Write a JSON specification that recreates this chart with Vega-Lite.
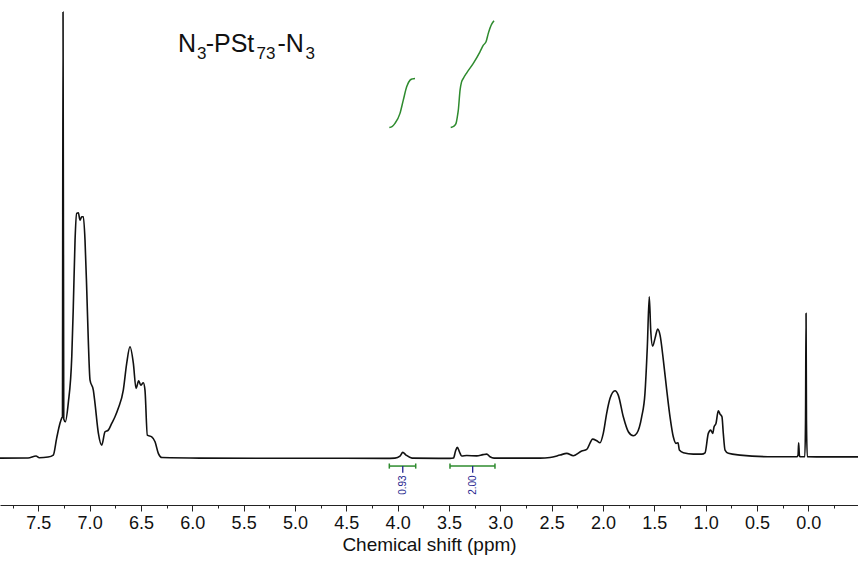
{
  "$schema": "https://vega.github.io/schema/vega-lite/v6.json",
  "width": 858,
  "height": 505,
  "autosize": {"type": "none"},
  "padding": {"left": 0, "top": 0, "right": 0, "bottom": 57},
  "background": "white",
  "config": {"view": {"stroke": null}, "font": "Liberation Sans"},
  "datasets": {
    "spectrum": [
      {"ppm": 7.873, "v": 0.13}, {"ppm": 7.6, "v": 0.15}, {"ppm": 7.522, "v": 0.57}, {"ppm": 7.49, "v": 0.2},
      {"ppm": 7.405, "v": 0.35}, {"ppm": 7.354, "v": 0.79}, {"ppm": 7.321, "v": 4.49}, {"ppm": 7.288, "v": 7.77},
      {"ppm": 7.272, "v": 8.85}, {"ppm": 7.265, "v": 9.07}, {"ppm": 7.259, "v": 97.36}, {"ppm": 7.252, "v": 8.63},
      {"ppm": 7.237, "v": 8.04}, {"ppm": 7.208, "v": 12.12}, {"ppm": 7.174, "v": 22.21}, {"ppm": 7.159, "v": 33.11},
      {"ppm": 7.142, "v": 47.65}, {"ppm": 7.126, "v": 53.48}, {"ppm": 7.110, "v": 53.61}, {"ppm": 7.094, "v": 52.01},
      {"ppm": 7.077, "v": 52.73}, {"ppm": 7.061, "v": 52.73}, {"ppm": 7.045, "v": 47.65}, {"ppm": 7.028, "v": 36.75},
      {"ppm": 7.013, "v": 25.85}, {"ppm": 6.996, "v": 17.13}, {"ppm": 6.964, "v": 14.95}, {"ppm": 6.948, "v": 12.12},
      {"ppm": 6.915, "v": 5.58}, {"ppm": 6.882, "v": 2.96}, {"ppm": 6.850, "v": 5.86}, {"ppm": 6.818, "v": 6.23},
      {"ppm": 6.785, "v": 7.70}, {"ppm": 6.753, "v": 9.13}, {"ppm": 6.721, "v": 10.97}, {"ppm": 6.672, "v": 14.95},
      {"ppm": 6.639, "v": 20.78}, {"ppm": 6.607, "v": 24.39}, {"ppm": 6.574, "v": 20.78}, {"ppm": 6.548, "v": 15.33},
      {"ppm": 6.522, "v": 16.98}, {"ppm": 6.502, "v": 16.04}, {"ppm": 6.477, "v": 16.55}, {"ppm": 6.461, "v": 14.95},
      {"ppm": 6.438, "v": 5.14}, {"ppm": 6.395, "v": 4.77}, {"ppm": 6.363, "v": 3.68}, {"ppm": 6.331, "v": 1.16},
      {"ppm": 6.295, "v": 0.24}, {"ppm": 5.925, "v": 0.13}, {"ppm": 4.951, "v": 0.09}, {"ppm": 4.123, "v": 0.07},
      {"ppm": 4.026, "v": 0.13}, {"ppm": 3.977, "v": 0.57}, {"ppm": 3.950, "v": 1.37}, {"ppm": 3.918, "v": 0.78},
      {"ppm": 3.860, "v": 0.13}, {"ppm": 3.490, "v": 0.07}, {"ppm": 3.456, "v": 0.13}, {"ppm": 3.436, "v": 1.66},
      {"ppm": 3.419, "v": 2.46}, {"ppm": 3.397, "v": 1.44}, {"ppm": 3.376, "v": 0.57}, {"ppm": 3.327, "v": 0.68},
      {"ppm": 3.230, "v": 0.61}, {"ppm": 3.168, "v": 0.89}, {"ppm": 3.132, "v": 1.00}, {"ppm": 3.100, "v": 0.41},
      {"ppm": 3.061, "v": 0.13}, {"ppm": 2.613, "v": 0.13}, {"ppm": 2.516, "v": 0.24}, {"ppm": 2.418, "v": 0.78},
      {"ppm": 2.353, "v": 1.16}, {"ppm": 2.289, "v": 0.63}, {"ppm": 2.207, "v": 1.66}, {"ppm": 2.158, "v": 2.03},
      {"ppm": 2.100, "v": 4.27}, {"ppm": 2.061, "v": 3.90}, {"ppm": 2.029, "v": 3.47}, {"ppm": 1.997, "v": 5.52},
      {"ppm": 1.964, "v": 9.88}, {"ppm": 1.931, "v": 13.15}, {"ppm": 1.883, "v": 14.80}, {"ppm": 1.851, "v": 13.86},
      {"ppm": 1.802, "v": 9.13}, {"ppm": 1.753, "v": 5.86}, {"ppm": 1.704, "v": 4.99}, {"ppm": 1.671, "v": 5.52},
      {"ppm": 1.623, "v": 9.13}, {"ppm": 1.591, "v": 14.24}, {"ppm": 1.568, "v": 24.39}, {"ppm": 1.549, "v": 35.29},
      {"ppm": 1.535, "v": 28.03}, {"ppm": 1.516, "v": 24.55}, {"ppm": 1.493, "v": 26.23}, {"ppm": 1.467, "v": 28.25},
      {"ppm": 1.444, "v": 26.94}, {"ppm": 1.412, "v": 21.49}, {"ppm": 1.379, "v": 14.95}, {"ppm": 1.347, "v": 9.13},
      {"ppm": 1.315, "v": 4.77}, {"ppm": 1.289, "v": 3.34}, {"ppm": 1.269, "v": 3.47}, {"ppm": 1.256, "v": 1.87},
      {"ppm": 1.217, "v": 1.29}, {"ppm": 1.120, "v": 1.00}, {"ppm": 1.038, "v": 1.00}, {"ppm": 1.006, "v": 1.29},
      {"ppm": 0.974, "v": 5.52}, {"ppm": 0.951, "v": 6.23}, {"ppm": 0.931, "v": 5.52}, {"ppm": 0.918, "v": 6.95},
      {"ppm": 0.899, "v": 7.70}, {"ppm": 0.877, "v": 10.44}, {"ppm": 0.860, "v": 9.72}, {"ppm": 0.841, "v": 9.13},
      {"ppm": 0.828, "v": 5.52}, {"ppm": 0.811, "v": 1.87}, {"ppm": 0.779, "v": 1.16}, {"ppm": 0.665, "v": 0.78},
      {"ppm": 0.341, "v": 0.41}, {"ppm": 0.113, "v": 0.41}, {"ppm": 0.100, "v": 0.78}, {"ppm": 0.094, "v": 3.47},
      {"ppm": 0.087, "v": 0.78}, {"ppm": 0.081, "v": 0.41}, {"ppm": 0.034, "v": 0.41}, {"ppm": 0.027, "v": 8.41},
      {"ppm": 0.022, "v": 31.68}, {"ppm": 0.018, "v": 8.41}, {"ppm": 0.010, "v": 0.41}, {"ppm": -0.146, "v": 0.39},
      {"ppm": -0.484, "v": 0.39}
    ],
    "integralCurves": [
      {"region": "a", "ppm": 4.081, "v": 72.22}, {"region": "a", "ppm": 4.055, "v": 72.40},
      {"region": "a", "ppm": 4.026, "v": 73.10}, {"region": "a", "ppm": 3.977, "v": 75.28},
      {"region": "a", "ppm": 3.945, "v": 78.17}, {"region": "a", "ppm": 3.912, "v": 81.07},
      {"region": "a", "ppm": 3.879, "v": 82.53}, {"region": "a", "ppm": 3.855, "v": 82.80},
      {"region": "a", "ppm": 3.831, "v": 82.91},
      {"region": "b", "ppm": 3.483, "v": 72.22}, {"region": "b", "ppm": 3.451, "v": 72.51},
      {"region": "b", "ppm": 3.431, "v": 73.10}, {"region": "b", "ppm": 3.419, "v": 74.47},
      {"region": "b", "ppm": 3.409, "v": 75.99}, {"region": "b", "ppm": 3.392, "v": 80.35},
      {"region": "b", "ppm": 3.378, "v": 82.10}, {"region": "b", "ppm": 3.360, "v": 82.91},
      {"region": "b", "ppm": 3.327, "v": 84.13}, {"region": "b", "ppm": 3.263, "v": 86.18},
      {"region": "b", "ppm": 3.198, "v": 88.70}, {"region": "b", "ppm": 3.165, "v": 90.16},
      {"region": "b", "ppm": 3.139, "v": 90.88}, {"region": "b", "ppm": 3.117, "v": 92.72},
      {"region": "b", "ppm": 3.084, "v": 94.74}, {"region": "b", "ppm": 3.061, "v": 95.46}
    ],
    "integrals": [
      {"from": 4.081, "to": 3.824, "mid": 3.950, "value": "0.93"},
      {"from": 3.490, "to": 3.052, "mid": 3.269, "value": "2.00"}
    ],
    "sampleName": [
      {"piece": "N", "kind": "main", "ppm": 6.139, "v": 88.64},
      {"piece": "3", "kind": "sub", "ppm": 5.955, "v": 87.2},
      {"piece": "-PSt", "kind": "main", "ppm": 5.870, "v": 88.64},
      {"piece": "73", "kind": "sub", "ppm": 5.374, "v": 87.2},
      {"piece": "-N", "kind": "main", "ppm": 5.170, "v": 88.64},
      {"piece": "3", "kind": "sub", "ppm": 4.897, "v": 87.2}
    ]
  },
  "encoding": {
    "x": {
      "field": "ppm",
      "type": "quantitative",
      "scale": {"domain": [-0.484, 7.873], "reverse": true, "nice": false, "zero": false},
      "axis": {
        "title": "Chemical shift (ppm)",
        "values": [-0.25, 0, 0.25, 0.5, 0.75, 1, 1.25, 1.5, 1.75, 2, 2.25, 2.5, 2.75, 3, 3.25, 3.5, 3.75, 4, 4.25, 4.5, 4.75, 5, 5.25, 5.5, 5.75, 6, 6.25, 6.5, 6.75, 7, 7.25, 7.5, 7.75],
        "labelExpr": "datum.value % 0.5 === 0 ? format(datum.value, '.1f') : ''",
        "labelOverlap": false,
        "labelFlush": false,
        "labelFont": "Liberation Sans",
        "labelFontSize": 18,
        "labelColor": "#111111",
        "labelPadding": 3,
        "tickSize": {"condition": {"test": "datum.value % 0.5 !== 0", "value": 3}, "value": 6},
        "tickColor": "#222222",
        "tickWidth": 1,
        "domainColor": "#222222",
        "domainWidth": 1,
        "grid": false,
        "titleFont": "Liberation Sans",
        "titleFontSize": 19,
        "titleFontWeight": "normal",
        "titleColor": "#111111",
        "titlePadding": 3
      }
    }
  },
  "layer": [
    {
      "data": {"name": "spectrum"},
      "mark": {"type": "line", "color": "#111111", "strokeWidth": 1.6, "strokeJoin": "round", "interpolate": "monotone"},
      "encoding": {
        "y": {"field": "v", "type": "quantitative", "scale": {"domain": [-10.1, 100], "nice": false, "zero": false}, "axis": null}
      }
    },
    {
      "data": {"name": "integralCurves"},
      "mark": {"type": "line", "color": "#2e8b2e", "strokeWidth": 1.5, "interpolate": "monotone"},
      "encoding": {
        "y": {"field": "v", "type": "quantitative"},
        "detail": {"field": "region"}
      }
    },
    {
      "data": {"name": "integrals"},
      "mark": {"type": "rule", "color": "#2e8b2e", "strokeWidth": 1.5},
      "encoding": {
        "x": {"field": "from", "type": "quantitative"},
        "x2": {"field": "to"},
        "y": {"datum": -1.61}
      }
    },
    {
      "data": {"name": "integrals"},
      "mark": {"type": "rule", "color": "#2e8b2e", "strokeWidth": 1.5},
      "encoding": {
        "x": {"field": "from", "type": "quantitative"},
        "y": {"datum": -1.05},
        "y2": {"datum": -2.17}
      }
    },
    {
      "data": {"name": "integrals"},
      "mark": {"type": "rule", "color": "#2e8b2e", "strokeWidth": 1.5},
      "encoding": {
        "x": {"field": "to", "type": "quantitative"},
        "y": {"datum": -1.05},
        "y2": {"datum": -2.17}
      }
    },
    {
      "data": {"name": "integrals"},
      "mark": {"type": "rule", "color": "#1f1f8f", "strokeWidth": 1.3},
      "encoding": {
        "x": {"field": "mid", "type": "quantitative"},
        "y": {"datum": -1.61},
        "y2": {"datum": -3.05}
      }
    },
    {
      "data": {"name": "integrals"},
      "mark": {"type": "text", "color": "#1f1f8f", "angle": 270, "align": "center", "baseline": "middle", "fontSize": 10, "font": "Liberation Sans"},
      "encoding": {
        "x": {"field": "mid", "type": "quantitative"},
        "y": {"datum": -5.76},
        "text": {"field": "value"}
      }
    },
    {
      "data": {"name": "sampleName"},
      "mark": {"type": "text", "color": "#111111", "align": "left", "baseline": "alphabetic", "font": "Liberation Sans"},
      "encoding": {
        "y": {"field": "v", "type": "quantitative"},
        "text": {"field": "piece"},
        "size": {"condition": {"test": "datum.kind === 'sub'", "value": 17}, "value": 25}
      }
    }
  ]
}
